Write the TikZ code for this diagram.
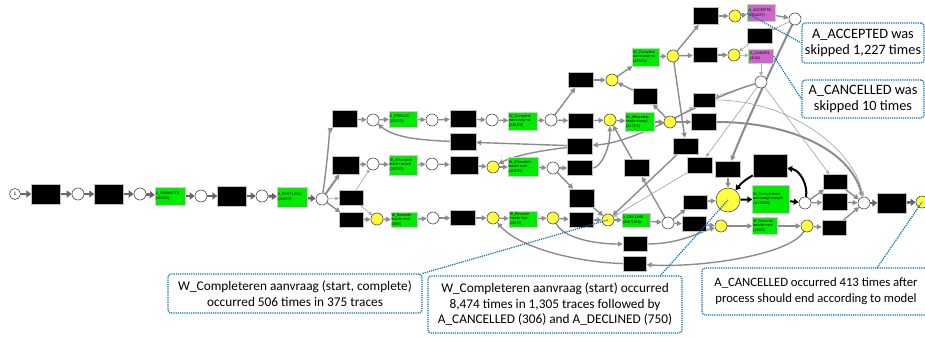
\documentclass[tikz,border=0pt]{standalone}
\usepackage{fontspec}
\setmainfont{Carlito}
\newfontfamily\labfont{Liberation Sans}
\usetikzlibrary{arrows.meta}
\definecolor{pgreen}{RGB}{0,235,0}
\definecolor{ppurple}{RGB}{204,102,204}
\definecolor{pyellow}{RGB}{255,255,64}
\definecolor{cblue}{RGB}{0,112,192}
\definecolor{edgeA}{RGB}{102,102,102}
\definecolor{edgeB}{RGB}{140,140,140}
\definecolor{edgeC}{RGB}{170,170,170}
\pgfdeclarelayer{bg}
\pgfsetlayers{bg,main}
\begin{document}
\begin{tikzpicture}[x=1pt,y=-1pt,
  pl/.style={circle,draw=black!70,fill=white,line width=0.6pt,minimum size=12pt,inner sep=0pt},
  ypl/.style={pl,fill=pyellow},
  tr/.style 2 args={rectangle,fill=black,draw=black!25,line width=0.4pt,minimum width=#1pt,minimum height=#2pt,inner sep=0pt},
  gt/.style 2 args={rectangle,fill=pgreen,draw=black!20,line width=0.3pt,minimum width=#1pt,minimum height=#2pt,inner sep=0.5pt,text width=#1pt,align=left,font=\labfont\fontsize{3.8}{4.3}\selectfont},
  purp/.style 2 args={gt={#1}{#2},fill=ppurple,path picture={\fill[pgreen] (path picture bounding box.south west) rectangle ([xshift=1.5pt]path picture bounding box.north west);}},
  decl/.style 2 args={gt={#1}{#2},path picture={\fill[ppurple] ([xshift=-1.5pt]path picture bounding box.north east) rectangle (path picture bounding box.south east);}},
  ma/.style={draw=edgeA,line width=2.6pt,-{Triangle[length=5pt,width=7pt]}},
  me/.style={draw=edgeB,line width=1.4pt,-{Triangle[length=5pt,width=5pt]}},
  mt/.style={draw=edgeC,line width=0.7pt,-{Triangle[length=3.5pt,width=3.5pt]}},
  mk/.style={draw=black,line width=2pt,-{Triangle[length=5pt,width=6pt]}},
  cb/.style={draw=cblue,densely dotted,line width=1.2pt,rounded corners=3pt,fill=white,align=center,font=\fontsize{13.3}{15.5}\selectfont,inner sep=0pt},
  cbt/.style={cb,font=\fontsize{14.3}{16}\selectfont},
  blu/.style={draw=cblue,densely dotted,line width=1.2pt}
]
\useasboundingbox (0,0) rectangle (925,337);
\begin{pgfonlayer}{bg}
\fill[white] (0,0) rectangle (925,337);
\end{pgfonlayer}
\clip (0,0) rectangle (925,337);

% main row
\node[pl,minimum size=11pt,font=\labfont\fontsize{5}{5}\selectfont] (p0) at (15,194) {1};
\node[tr={29}{20}] (t1) at (46,194) {};
\node[pl] (p1) at (78,194) {};
\node[tr={29}{20}] (t2) at (109,194) {};
\node[pl] (p2) at (140,194) {};
\node[gt={29}{18}] (g1) at (170,196) {A\_SUBMITTE\\(4640/0)};
\node[pl] (p3) at (201,196) {};
\node[tr={29}{20}] (t3) at (232,196) {};
\node[pl] (p4) at (262,196) {};
\node[gt={29}{20}] (g2) at (292,197) {A\_PARTLYSU\\(4640/0)};
\node[pl] (p5) at (322,199) {};

% top row
\node[tr={25}{17}] (t4) at (345,119) {};
\node[pl] (p6) at (373,120) {};
\node[gt={27}{16}] (g3) at (403,119) {A\_PREACC\\(2252/0)};
\node[pl] (p7) at (432,120) {};
\node[tr={26}{17}] (t8) at (463,119) {};
\node[pl] (p8) at (492,120) {};
\node[gt={28}{18}] (g4) at (523,121) {W\_Complete\\aanvraag+sc\\(2352/0)};
\node[pl] (p9) at (551,120) {};
\node[tr={25}{15}] (t13) at (581,121) {};
\node[ypl] (y1) at (610,120) {};
\node[gt={28}{19}] (g9) at (640,122) {W\_Afhandele\\leads+compl\\(4171/1)};
\node[ypl] (y2) at (670,122) {};
\node[tr={25}{17}] (t23) at (704,122) {};
\node[tr={22}{14}] (t22) at (704,100) {};
\node[tr={25}{16}] (t24) at (686,146) {};
\node[tr={24}{16}] (t18) at (645,96) {};
\node[tr={25}{15}] (t12) at (581,80) {};
\node[ypl] (y3) at (612,80) {};
\node[gt={26}{18}] (g10) at (646,57) {W\_Complete\\aanvraag+co\\(2353/0)};
\node[ypl] (y4) at (673,56) {};
\node[tr={25}{17}] (t19) at (706,16) {};
\node[ypl] (y5) at (735,16) {};
\node[purp={27}{17}] (g11) at (761,13) {\hspace*{1pt}A\_ACCEPTE\\\hspace*{1pt}(75/1227)};
\node[pl] (p10) at (795,19) {};
\node[tr={24}{15}] (t20) at (705,55) {};
\node[ypl] (y6) at (734,55) {};
\node[purp={24}{14}] (g12) at (761,56) {\hspace*{1pt}A\_CANCEL\\\hspace*{1pt}(4/10)};
\node[tr={25}{15}] (t21) at (760,36) {};
\node[pl] (p11) at (761,82) {};

% middle row
\node[tr={27}{18}] (t5) at (346,165) {};
\node[pl] (p12) at (373,164) {};
\node[gt={27}{20}] (g5) at (403,165) {W\_Afhandele\\leads+sched\\(3972/0)};
\node[pl] (p13) at (432,164) {};
\node[tr={28}{18}] (t9) at (464,165) {};
\node[tr={26}{17}] (t10) at (463,142) {};
\node[ypl] (y7) at (493,167) {};
\node[gt={29}{19}] (g6) at (523,167) {W\_Afhandele\\leads+start\\(4163/0)};
\node[pl] (p14) at (553,168) {};
\node[tr={25}{15}] (t15) at (580,168) {};
\node[tr={25}{16}] (t14) at (580,146) {};
\node[tr={25}{18}] (t16) at (582,198) {};

% lower row
\node[tr={24}{15}] (t6) at (351,198) {};
\node[tr={24}{15}] (t7) at (351,220) {};
\node[ypl] (y8) at (377,219) {};
\node[gt={25}{15}] (g7) at (404,220) {W\_Beoorde\\fraude+sch\\(69/0)};
\node[pl] (p15) at (433,218) {};
\node[tr={25}{15}] (t11) at (463,218) {};
\node[ypl] (y9) at (493,218) {};
\node[gt={27}{16}] (g8) at (523,219) {W\_Beoorde\\fraude+sta\\(211/0)};
\node[ypl] (y10) at (553,218) {};
\node[tr={24}{15}] (t17) at (581,220) {};
\node[ypl] (y11) at (608,220) {};
\node[decl={27}{14}] (g13) at (636,220) {A\_DECLINE\\(3087/268)};
\node[pl] (p16) at (668,223) {};
\node[tr={25}{17}] (t25) at (637,168) {};
\node[tr={25}{16}] (t26) at (700,165) {};
\node[tr={25}{16}] (t27) at (728,169) {};
\node[tr={34}{23}] (t28) at (770,166) {};
\node[tr={24}{14}] (t29) at (695,202) {};
\node[tr={24}{15}] (t30) at (694,224) {};
\node[ypl,minimum size=24pt] (Y) at (728,200) {};
\node[ypl] (y12) at (721,226) {};
\node[gt={36}{28}] (g14) at (771,199) {W\_Completeren\\aanvraag+comple\\(1/1305/0)};
\node[pl] (p17) at (805,203) {};
\node[gt={24}{17}] (g15) at (765,226) {W\_Beoorde\\fraude+com\\(198/0)};
\node[ypl] (y13) at (807,226) {};
\node[tr={24}{15}] (t31) at (835,182) {};
\node[tr={25}{17}] (t32) at (835,202) {};
\node[tr={24}{15}] (t33) at (834,228) {};
\node[pl] (p18) at (864,203) {};
\node[tr={29}{20}] (t34) at (892,203) {};
\node[ypl] (y14) at (922,202) {};
\node[tr={24}{15}] (t35) at (635,244) {};
\node[tr={23}{15}] (t36) at (635,264) {};

\begin{pgfonlayer}{bg}
% main row
\draw[ma] (p0)--(t1);
\draw[ma] (t1)--(p1);
\draw[ma] (p1)--(t2);
\draw[ma] (t2)--(p2);
\draw[ma] (p2)--(g1);
\draw[ma] (g1)--(p3);
\draw[ma] (p3)--(t3);
\draw[ma] (t3)--(p4);
\draw[ma] (p4)--(g2);
\draw[ma] (g2)--(p5);
\draw[me] (p5) .. controls (327,165) and (330,130) .. (t4);
\draw[me,line width=2pt] (p5)--(t5);
\draw[mt] (p5)--(t6);
\draw[me] (p5)--(t7);
% top row
\draw[me] (t4)--(p6);
\draw[me] (p6)--(g3);
\draw[me] (g3)--(p7);
\draw[me] (p7)--(t8);
\draw[me] (t8)--(p8);
\draw[me] (p8)--(g4);
\draw[me] (g4)--(p9);
\draw[me] (p9)--(t13);
\draw[me] (t13)--(y1);
\draw[me] (y1)--(g9);
\draw[me] (g9)--(y2);
\draw[me] (y2)--(t23);
\draw[me] (p9)--(t12);
\draw[me] (t12)--(y3);
\draw[me] (y3)--(g10);
\draw[me] (g10)--(y4);
\draw[me] (y4)--(t19);
\draw[me] (t19)--(y5);
\draw[me] (y5)--(g11);
\draw[me] (g11)--(p10);
\draw[me] (y4)--(t20);
\draw[me] (t20)--(y6);
\draw[mt] (y6)--(g12);
\draw[mt] (g12)--(p11);
\draw[mt] (p10)--(t21);
\draw[mt] (t21)--(y6);
\draw[me] (y4)--(t24);
\draw[me] (y2)--(t18);
\draw[me] (t18)--(y3);
\draw[mt] (p11)--(t22);
\draw[mt] (y2)--(t22);
\draw[mt] (p11)--(t31);
\draw[mt] (p11)--(t26);
\draw[me] (p11) .. controls (700,100) and (640,142) .. (t14);
\draw[me] (t14)--(t10);
\draw[me] (t14) .. controls (545,150) and (515,155) .. (y7);
\draw[me] (t10) .. controls (420,140) and (395,138) .. (p6);
% middle row
\draw[me] (t5)--(p12);
\draw[me] (p12)--(g5);
\draw[me] (g5)--(p13);
\draw[me] (p13)--(t9);
\draw[me] (t9)--(y7);
\draw[me] (y7)--(g6);
\draw[me] (g6)--(p14);
\draw[me] (p14)--(t15);
\draw[me] (t15) .. controls (600,168) and (610,150) .. (y1);
\draw[me] (p14)--(t16);
\draw[me] (t16)--(y11);
% lower row
\draw[mt] (t6)--(p12);
\draw[mt] (t6)--(y8);
\draw[me] (t7)--(y8);
\draw[me] (y8)--(g7);
\draw[me] (g7)--(p15);
\draw[me] (p15)--(t11);
\draw[me] (t11)--(y9);
\draw[me] (y9)--(g8);
\draw[me] (g8)--(y10);
\draw[me] (y10)--(t17);
\draw[me] (t17)--(y11);
\draw[me] (y11)--(g13);
\draw[me] (g13)--(p16);
\draw[me] (p16)--(t25);
\draw[me] (t25)--(y1);
\draw[me] (p16)--(t29);
\draw[me] (p16)--(t30);
\draw[me] (t24)--(y11);
\draw[mt] (t26)--(y11);
\draw[me] (t29)--(Y);
\draw[me] (t27)--(Y);
\draw[me,line width=2pt] (p10) .. controls (775,60) and (745,125) .. (t27);
\draw[mk] (Y)--(g14);
\draw[mk] (g14)--(p17);
\draw[mk] (p17) .. controls (808,185) and (800,170) .. (t28);
\draw[mk] (t28) .. controls (748,178) and (742,182) .. (Y);
\draw[me] (p17)--(t31);
\draw[me] (p17)--(t32);
\draw[me] (t31)--(p18);
\draw[me] (t32)--(p18);
\draw[me] (t33)--(p18);
\draw[ma] (p18)--(t34);
\draw[ma] (t34)--(y14);
\draw[me] (t30)--(y12);
\draw[me] (y12)--(g15);
\draw[me] (g15)--(y13);
\draw[me] (y13)--(t33);
\draw[me,line width=2pt] (t23) .. controls (790,122) and (850,150) .. (p18);
\draw[mt] (t22) .. controls (790,100) and (855,150) .. (p18);
\draw[me] (y10) .. controls (565,240) and (600,244) .. (t35);
\draw[me] (t35) .. controls (680,244) and (700,232) .. (y12);
\draw[me] (y13) .. controls (790,255) and (700,268) .. (t36);
\draw[me] (t36) .. controls (575,262) and (520,248) .. (y9);
\end{pgfonlayer}

% callouts
\node[cbt,minimum width=122pt,minimum height=40pt] (c1) at (863,43) {A\_ACCEPTED was\\skipped 1,227 times};
\node[cbt,minimum width=122pt,minimum height=38pt] (c2) at (863,99) {A\_CANCELLED was\\skipped 10 times};
\node[cb,minimum width=254pt,minimum height=39pt] (c3) at (295,293.5) {W\_Completeren aanvraag (start, complete)\\occurred 506 times in 375 traces};
\node[cb,minimum width=254pt,minimum height=57pt] (c4) at (555,304.5) {W\_Completeren aanvraag (start) occurred\\8,474 times in 1,305 traces followed by\\A\_CANCELLED (306) and A\_DECLINED (750)};
\node[cb,font=\fontsize{12.7}{16}\selectfont,minimum width=228pt,minimum height=47pt] (c5) at (816,291.5) {A\_CANCELLED occurred 413 times after\\process should end according to model};
\coordinate (c4a) at (660,276);
\coordinate (c5a) at (877,268);
\draw[blu] (g11.west) -- (c1.west);
\draw[blu] (g12.east) -- (c2.west);
\draw[blu] (c3.north east) -- (y11.center);
\draw[blu] (c4a) -- (Y.center);
\draw[blu] (c5a) -- (y14.center);
\end{tikzpicture}
\end{document}
